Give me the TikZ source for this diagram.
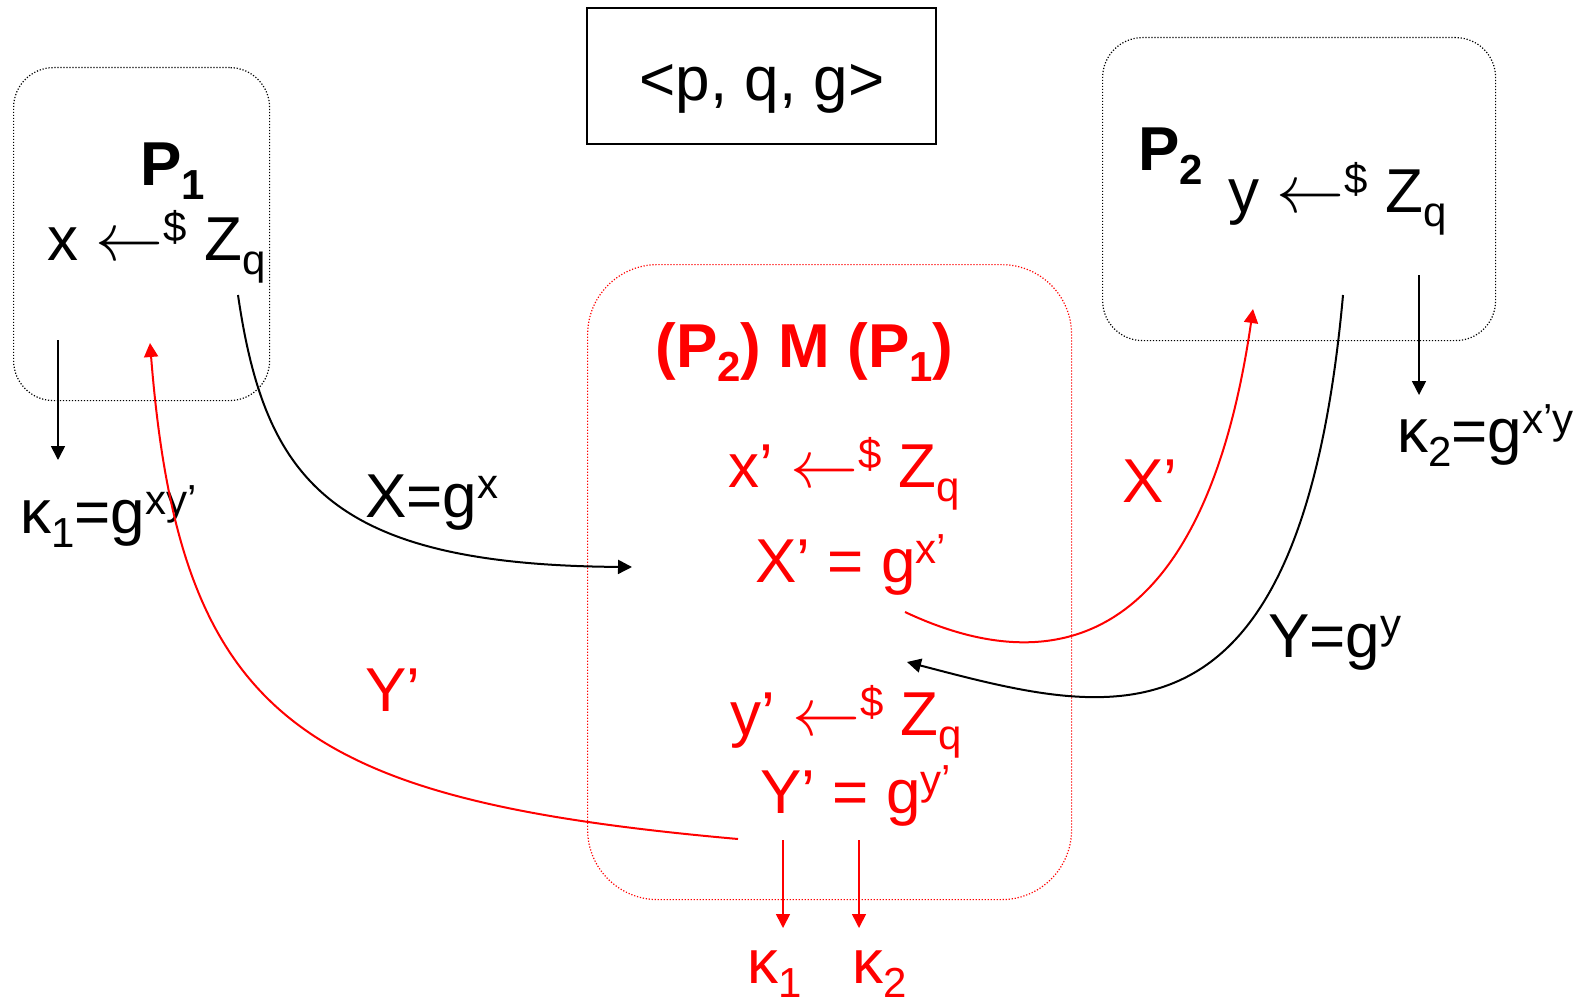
\RequirePackage{fix-cm}
\documentclass[tikz,border=0pt]{standalone}
\usepackage{fontspec}
\setmainfont{Liberation Sans}
\usepackage{xcolor}
\usetikzlibrary{arrows.meta}

\newcommand{\hoch}[1]{\raisebox{0.3em}{\fontsize{21}{21}\selectfont #1}}
\newcommand{\tief}[1]{\raisebox{-0.24em}{\fontsize{21}{21}\selectfont #1}}
\newcommand{\zieh}{{\fontsize{34}{34}\selectfont$\leftarrow$}}

\begin{document}
\begin{tikzpicture}[x=0.5pt, y=-0.5pt,
    txt/.style={font=\fontsize{31}{37}\selectfont, inner sep=0pt, anchor=base west},
    party/.style={draw, line width=0.6pt, dash pattern=on 0.6pt off 0.9pt,
        rounded corners=20pt, anchor=north west, inner sep=0pt},
    msg/.style={line width=1pt, -{Triangle[length=7pt,width=7pt]}},
    down/.style={line width=0.8pt, -{Triangle[length=7pt,width=7pt]}}]
    \useasboundingbox (0,0) rectangle (1582,1006);

    % Public parameters
    \node (params) [draw, line width=0.8pt, minimum width=174.5pt, minimum height=68pt,
        anchor=north west] at (586,7) {};
    \node (paramtext) [txt, anchor=base] at (762,100) {<p, q, g>};

    % Boxes
    \node (p1box) [party, minimum width=128pt, minimum height=166.5pt] at (13,67) {};
    \node (p2box) [party, minimum width=196.5pt, minimum height=151.5pt] at (1102,37) {};
    \node (mbox) [party, red, rounded corners=35pt, minimum width=242pt,
        minimum height=317.5pt] at (587,264) {};

    % P1
    \node (p1name) [txt] at (140,185) {\textbf{P\tief{1}}};
    \node (p1pick) [txt] at (47,260) {x \zieh\hoch{\$} Z\tief{q}};
    \node (k1) [txt] at (20,533) {κ\tief{1}=g\hoch{xy’}};

    % P2
    \node (p2name) [txt] at (1138,170) {\textbf{P\tief{2}}};
    \node (p2pick) [txt] at (1228,212) {y \zieh\hoch{\$} Z\tief{q}};
    \node (k2) [txt] at (1397,452) {κ\tief{2}=g\hoch{x’y}};

    % M
    \node (mname) [txt, red] at (655,367) {\textbf{(P\tief{2}) M (P\tief{1})}};
    \node (mxpick) [txt, red] at (728,487) {x’ \zieh\hoch{\$} Z\tief{q}};
    \node (mX) [txt, red] at (755,582) {X’ = g\hoch{x’}};
    \node (mypick) [txt, red] at (730,735) {y’ \zieh\hoch{\$} Z\tief{q}};
    \node (mY) [txt, red] at (760,813) {Y’ = g\hoch{y’}};
    \node (mk1) [txt, red] at (747,983) {κ\tief{1}};
    \node (mk2) [txt, red] at (852,983) {κ\tief{2}};

    % Messages
    \node (Xlabel) [txt] at (365,517) {X=g\hoch{x}};
    \node (Ylabel) [txt] at (1268,657) {Y=g\hoch{y}};
    \node (Xplabel) [txt, red] at (1122,502) {X’};
    \node (Yplabel) [txt, red] at (365,711) {Y’};

    % Ends of the connectors
    \coordinate (xout) at (238,295);
    \coordinate (xin) at (632,567);
    \coordinate (yout) at (1343,295);
    \coordinate (yin) at (907,662);
    \coordinate (xpout) at (905,612);
    \coordinate (xpin) at (1253,309);
    \coordinate (ypout) at (738,839);
    \coordinate (ypin) at (150,343);

    \draw[msg] (xout) .. controls (265,480) and (330,565) .. (xin);
    \draw[msg] (yout) .. controls (1300,770) and (1110,715) .. (yin);
    \draw[msg, red] (xpout) .. controls (1060,685) and (1205,640) .. (xpin);
    \draw[msg, red] (ypout) .. controls (300,800) and (180,720) .. (ypin);

    % Keys
    \coordinate (k1from) at (58,340);
    \coordinate (k1to) at (58,460);
    \coordinate (k2from) at (1419,275);
    \coordinate (k2to) at (1419,395);
    \coordinate (mk1from) at (783,840);
    \coordinate (mk1to) at (783,928);
    \coordinate (mk2from) at (859,840);
    \coordinate (mk2to) at (859,928);
    \draw[down] (k1from) -- (k1to);
    \draw[down] (k2from) -- (k2to);
    \draw[down, red] (mk1from) -- (mk1to);
    \draw[down, red] (mk2from) -- (mk2to);
\end{tikzpicture}
\end{document}
